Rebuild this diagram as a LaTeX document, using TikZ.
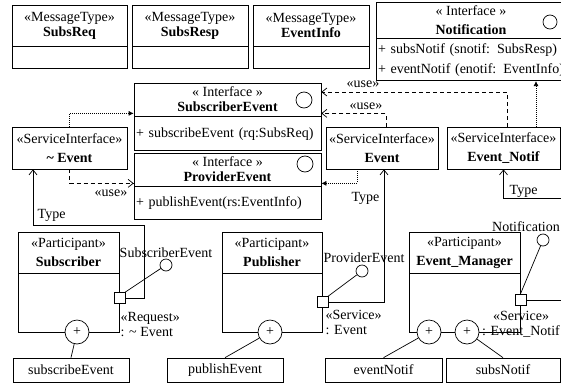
\documentclass[tikz,border=0pt]{standalone}
\usepackage{fontspec}
\setmainfont{Liberation Serif}
\usetikzlibrary{positioning,arrows.meta}

\begin{document}
\begin{tikzpicture}
    % 样式: 标题栏, 属性栏, 操作框, 端口, 接口圆圈, 三种连线
    [x=1pt, y=-1pt, line width=0.7pt,
    font=\fontsize{14}{17}\selectfont,
    HeadBox/.style={draw, rectangle, inner sep=0pt, align=center, font=\fontsize{14}{15}\selectfont},
    TallHead/.style={HeadBox, font=\fontsize{14}{19}\selectfont},
    BodyBox/.style={draw, rectangle, inner sep=2pt, align=left},
    OpBox/.style={draw, rectangle, inner sep=0pt, minimum height=24pt},
    PortBox/.style={draw, rectangle, fill=white, inner sep=0pt, minimum size=11pt},
    Lolly/.style={draw, circle, fill=white, inner sep=0pt, minimum size=12pt},
    IfBall/.style={draw, circle, inner sep=0pt, minimum size=16pt},
    PlusBall/.style={draw, circle, fill=white, inner sep=0pt, minimum size=24pt},
    UseLine/.style={dash pattern=on 4pt off 3pt, -{Straight Barb[length=5pt,width=8pt]}},
    RealLine/.style={dash pattern=on 1pt off 1pt, -{Latex[length=5pt,width=5pt]}},
    TypeLine/.style={-{Straight Barb[length=5pt,width=8pt]}}]

    % 画布大小
    \useasboundingbox (0,0) rectangle (561,383);
    \clip (0,0) rectangle (561,383);

    % 消息类型
    \node[HeadBox, minimum width=115pt, minimum height=41pt] (reqH) at (69.5,25.5) {«MessageType»\\\textbf{SubsReq}};
    \node[BodyBox, minimum width=115pt, minimum height=22pt, below=0pt of reqH] (reqB) {};
    \node[HeadBox, minimum width=116pt, minimum height=41pt] (respH) at (190,25.5) {«MessageType»\\\textbf{SubsResp}};
    \node[BodyBox, minimum width=116pt, minimum height=22pt, below=0pt of respH] (respB) {};
    \node[HeadBox, minimum width=116pt, minimum height=41pt] (infoH) at (311,25.5) {«MessageType»\\\textbf{EventInfo}};
    \node[BodyBox, minimum width=116pt, minimum height=22pt, below=0pt of infoH] (infoB) {};

    % 接口
    \node[TallHead, minimum width=190pt, minimum height=36pt] (notH) at (471,20) {« Interface »\\\textbf{Notification}};
    \node[BodyBox, text width=186pt, minimum height=42pt, below=0pt of notH] (notB)
        {+ subsNotif (snotif: SubsResp)\\[3pt]+ eventNotif (enotif: EventInfo)};
    \node[IfBall, minimum size=14pt] (notC) at (550,22) {};

    \node[HeadBox, minimum width=187pt, minimum height=33pt] (subH) at (227.5,99.5) {« Interface »\\\textbf{SubscriberEvent}};
    \node[BodyBox, text width=183pt, minimum height=34pt, below=0pt of subH] (subB) {+ subscribeEvent (rq:SubsReq)};
    \node[IfBall] (subC) at (304,100) {};

    \node[HeadBox, minimum width=187pt, minimum height=33pt] (prvH) at (227.5,169.5) {« Interface »\\\textbf{ProviderEvent}};
    \node[BodyBox, text width=183pt, minimum height=33pt, below=0pt of prvH] (prvB) {+ publishEvent(rs:EventInfo)};
    \node[IfBall] (prvC) at (305,164) {};

    % 服务接口
    \node[TallHead, minimum width=115pt, minimum height=42pt] (tilde) at (69.5,148) {«ServiceInterface»\\\textbf{\textasciitilde{} Event}};
    \node[TallHead, minimum width=112pt, minimum height=42pt] (evt) at (382,148) {«ServiceInterface»\\\textbf{Event}};
    \node[TallHead, minimum width=113pt, minimum height=42pt] (enot) at (503.5,148) {«ServiceInterface»\\\textbf{Event\_Notif}};

    % 参与者
    \node[TallHead, minimum width=101pt, minimum height=41pt] (subsP) at (68.5,252.5) {«Participant»\\\textbf{Subscriber}};
    \node[BodyBox, minimum width=101pt, minimum height=59pt, below=0pt of subsP] (subsPB) {};
    \node[TallHead, minimum width=100pt, minimum height=41pt] (pubP) at (272,252.5) {«Participant»\\\textbf{Publisher}};
    \node[BodyBox, minimum width=100pt, minimum height=59pt, below=0pt of pubP] (pubPB) {};
    \node[TallHead, minimum width=111pt, minimum height=41pt] (emP) at (464.5,252.5) {«Participant»\\\textbf{Event\_Manager}};
    \node[BodyBox, minimum width=111pt, minimum height=59pt, below=0pt of emP] (emPB) {};

    % 操作
    \node[OpBox, minimum width=116pt] (opSub) at (71,370) {subscribeEvent};
    \node[OpBox, minimum width=116pt] (opPub) at (225,370) {publishEvent};
    \node[OpBox, minimum width=117pt] (opEvt) at (383.5,370) {eventNotif};
    \node[OpBox, minimum width=114pt] (opSNo) at (503,370) {subsNotif};

    % 加号圆圈及其连线
    \node[PlusBall] (plusSub) at (77,332) {+};
    \node[PlusBall] (plusPub) at (270,332) {+};
    \node[PlusBall] (plusEvt) at (429,332) {+};
    \node[PlusBall] (plusSNo) at (467,332) {+};
    \draw (plusSub) -- (opSub.north);
    \draw (plusPub) -- (opPub.north);
    \draw (plusEvt) -- (opEvt.north);
    \draw (plusSNo) -- (opSNo.north);

    % 端口与接口圆圈
    \node[PortBox] (portSub) at (subsPB.east |- 0,298) {};
    \node[PortBox] (portPub) at (pubPB.east |- 0,302) {};
    \node[PortBox] (portEM) at (emPB.east |- 0,300) {};
    \node[Lolly] (lolSub) at (166,265) {};
    \node[Lolly] (lolPub) at (362,271) {};
    \node[Lolly] (lolEM) at (543,240) {};
    \draw (portSub.north east) -- (lolSub);
    \draw (portPub.north east) -- (lolPub);
    \draw (portEM.north) -- (lolEM);
    \node (lblSub) at (166,253) {SubscriberEvent};
    \node (lblPub) at (364,258) {ProviderEvent};
    \node (lblEM) at (526,227) {Notification};

    % 端口说明
    \node[align=left, anchor=west, font=\fontsize{14}{15}\selectfont] (reqLbl) at (117,324.5) {«Request»\\: \textasciitilde{} Event};
    \node[align=left, anchor=west, font=\fontsize{14}{15}\selectfont] (svcPub) at (322,322.5) {«Service»\\: Event};
    \node[align=center, font=\fontsize{14}{15}\selectfont] (svcEM) at (521,324.5) {«Service»\\: Event\_Notif};

    % use 依赖 (虚线)
    \draw[UseLine] (tilde.south) |- ([yshift=3pt]prvH.south west);
    \draw[UseLine] ([xshift=4pt]evt.north) |- ([yshift=3pt]subH.south east);
    \draw[UseLine] ([xshift=3.5pt]enot.north) |- ([yshift=7.5pt]subH.east);
    \node (useA) at (111,193) {«use»};
    \node (useB) at (366,106) {«use»};
    \node (useC) at (363,84) {«use»};

    % 实现关系 (点线)
    \draw[RealLine] (tilde.north) |- ([yshift=3pt]subH.south west);
    \draw[RealLine] ([xshift=-25pt]evt.south) |- ([yshift=3pt]prvH.south east);
    \draw[RealLine] ([xshift=32.5pt]enot.north) -- (notB.south -| 536,0);

    % 端口类型
    \draw[TypeLine] (portSub.east) -| (144,225) -| (tilde.south -| 33,0);
    \draw[TypeLine] (portPub.east) -| ([xshift=2pt]evt.south);
    \draw[TypeLine] (portEM.east) -| (575,198) -| (enot.south);
    \node[anchor=west] (typeA) at (34,215) {Type};
    \node[anchor=east] (typeB) at (383,198) {Type};
    \node[anchor=west] (typeC) at (506,191) {Type};

\end{tikzpicture}
\end{document}
